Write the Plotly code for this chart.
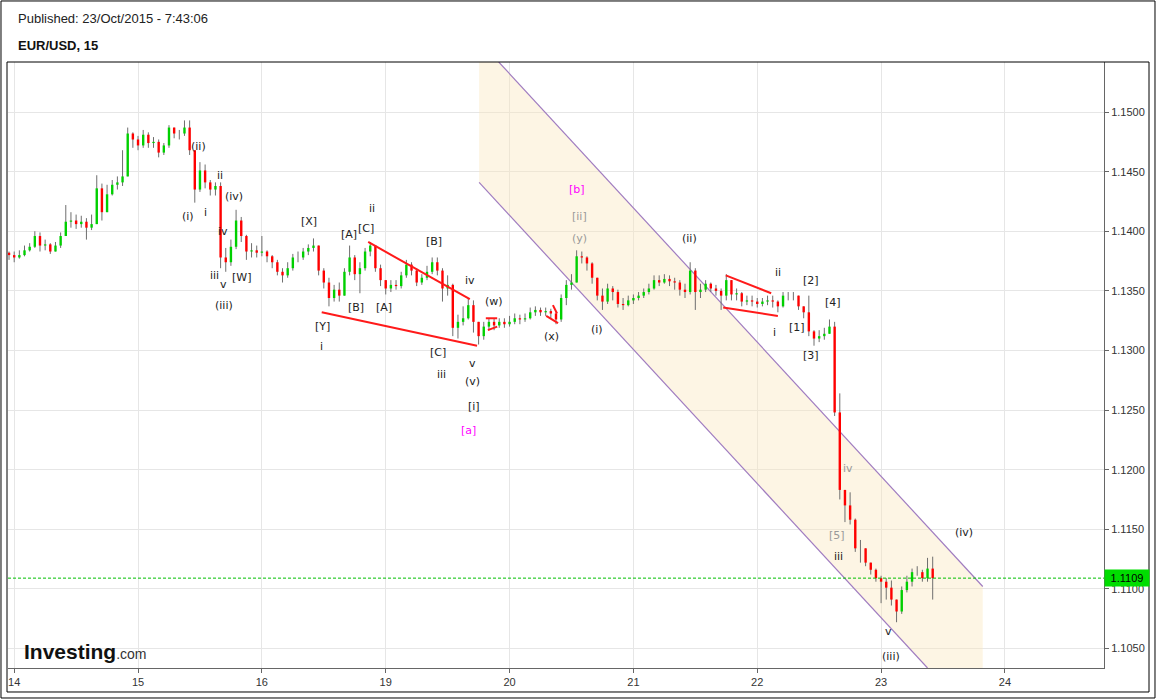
import plotly.graph_objects as go

# ---------------- data (EUR/USD, hourly bars) ----------------
day_labels = ["14", "15", "16", "19", "20", "21", "22", "23", "24"]
day_ticks = [0, 24, 48, 72, 96, 120, 144, 168, 192]      # trading hours, weekend removed
hours = list(range(-1, 179))

first_open = 1.1382

close_14 = [1.1380, 1.1378, 1.1380, 1.1384, 1.1387, 1.1396, 1.1388, 1.1389, 1.1383, 1.1388, 1.1396, 1.1408, 1.1409,
            1.1406, 1.1408, 1.1403, 1.1406, 1.1436, 1.1416, 1.1431, 1.1439, 1.1441, 1.1446, 1.1482, 1.1477]
high_14 = [1.1383, 1.1383, 1.1384, 1.1388, 1.1390, 1.1400, 1.1399, 1.1393, 1.1390, 1.1391, 1.1399, 1.1422, 1.1416,
           1.1414, 1.1413, 1.1411, 1.1414, 1.1447, 1.1440, 1.1439, 1.1443, 1.1446, 1.1468, 1.1487, 1.1483]
low_14 = [1.1376, 1.1374, 1.1377, 1.1379, 1.1383, 1.1386, 1.1383, 1.1384, 1.1381, 1.1383, 1.1386, 1.1396, 1.1403,
          1.1402, 1.1403, 1.1393, 1.1401, 1.1406, 1.1409, 1.1416, 1.1430, 1.1435, 1.1438, 1.1446, 1.1470]

close_15 = [1.1472, 1.1481, 1.1474, 1.1475, 1.1466, 1.1472, 1.1487, 1.1482, 1.1482, 1.1487, 1.1468, 1.1435,
            1.1451, 1.1441, 1.1435, 1.1438, 1.1378, 1.1374, 1.1387, 1.1409, 1.1396, 1.1383, 1.1384, 1.1382]
high_15 = [1.1480, 1.1485, 1.1483, 1.1479, 1.1477, 1.1474, 1.1489, 1.1487, 1.1485, 1.1493, 1.1493, 1.1468,
           1.1458, 1.1456, 1.1443, 1.1441, 1.1441, 1.1386, 1.1393, 1.1418, 1.1412, 1.1397, 1.1390, 1.1388]
low_15 = [1.1468, 1.1470, 1.1470, 1.1470, 1.1462, 1.1464, 1.1470, 1.1478, 1.1477, 1.1480, 1.1464, 1.1424,
          1.1433, 1.1436, 1.1430, 1.1430, 1.1369, 1.1366, 1.1371, 1.1385, 1.1391, 1.1376, 1.1378, 1.1378]

close_16 = [1.1383, 1.1379, 1.1374, 1.1366, 1.1363, 1.1369, 1.1378, 1.1378, 1.1383, 1.1386, 1.1388, 1.1367,
            1.1357, 1.1344, 1.1351, 1.1346, 1.1366, 1.1378, 1.1364, 1.1369, 1.1383, 1.1388, 1.1369, 1.1359]
high_16 = [1.1396, 1.1384, 1.1380, 1.1376, 1.1369, 1.1374, 1.1381, 1.1383, 1.1386, 1.1389, 1.1394, 1.1388,
           1.1369, 1.1361, 1.1355, 1.1357, 1.1369, 1.1388, 1.1380, 1.1374, 1.1386, 1.1391, 1.1388, 1.1372]
low_16 = [1.1379, 1.1374, 1.1369, 1.1363, 1.1357, 1.1361, 1.1367, 1.1374, 1.1376, 1.1380, 1.1383, 1.1363,
          1.1352, 1.1337, 1.1341, 1.1341, 1.1346, 1.1363, 1.1359, 1.1348, 1.1367, 1.1379, 1.1366, 1.1354]

close_19 = [1.1352, 1.1355, 1.1354, 1.1363, 1.1372, 1.1367, 1.1357, 1.1361, 1.1366, 1.1374, 1.1367, 1.1352,
            1.1355, 1.1319, 1.1324, 1.1327, 1.1338, 1.1324, 1.1312, 1.1320, 1.1324, 1.1321, 1.1324, 1.1322]
high_19 = [1.1359, 1.1359, 1.1359, 1.1366, 1.1376, 1.1374, 1.1369, 1.1364, 1.1371, 1.1378, 1.1378, 1.1369,
           1.1363, 1.1356, 1.1330, 1.1337, 1.1344, 1.1342, 1.1320, 1.1324, 1.1327, 1.1327, 1.1327, 1.1327]
low_19 = [1.1347, 1.1349, 1.1351, 1.1352, 1.1361, 1.1363, 1.1354, 1.1355, 1.1359, 1.1364, 1.1363, 1.1341,
          1.1346, 1.1312, 1.1310, 1.1321, 1.1326, 1.1315, 1.1305, 1.1309, 1.1317, 1.1317, 1.1319, 1.1319]

close_20 = [1.1324, 1.1327, 1.1326, 1.1327, 1.1332, 1.1334, 1.1332, 1.1333, 1.1331, 1.1326, 1.1344, 1.1355,
            1.1357, 1.1379, 1.1378, 1.1373, 1.1361, 1.1346, 1.1341, 1.1352, 1.1349, 1.1339, 1.1338, 1.1342]
high_20 = [1.1329, 1.1331, 1.1330, 1.1331, 1.1336, 1.1337, 1.1336, 1.1336, 1.1335, 1.1332, 1.1347, 1.1359,
           1.1364, 1.1384, 1.1383, 1.1379, 1.1374, 1.1361, 1.1352, 1.1356, 1.1354, 1.1351, 1.1344, 1.1346]
low_20 = [1.1320, 1.1322, 1.1322, 1.1324, 1.1326, 1.1329, 1.1329, 1.1329, 1.1327, 1.1322, 1.1324, 1.1338,
          1.1351, 1.1357, 1.1373, 1.1367, 1.1356, 1.1342, 1.1334, 1.1339, 1.1342, 1.1336, 1.1334, 1.1337]

close_21 = [1.1344, 1.1346, 1.1349, 1.1352, 1.1359, 1.1357, 1.1360, 1.1358, 1.1357, 1.1351, 1.1349, 1.1367,
            1.1349, 1.1351, 1.1356, 1.1352, 1.1350, 1.1346, 1.1359, 1.1347, 1.1348, 1.1341, 1.1342, 1.1341]
high_21 = [1.1347, 1.1349, 1.1352, 1.1356, 1.1363, 1.1363, 1.1364, 1.1363, 1.1361, 1.1359, 1.1356, 1.1374,
           1.1369, 1.1356, 1.1359, 1.1357, 1.1355, 1.1352, 1.1364, 1.1359, 1.1352, 1.1349, 1.1346, 1.1346]
low_21 = [1.1339, 1.1342, 1.1344, 1.1347, 1.1351, 1.1354, 1.1356, 1.1354, 1.1351, 1.1346, 1.1344, 1.1347,
          1.1334, 1.1344, 1.1349, 1.1349, 1.1346, 1.1334, 1.1342, 1.1342, 1.1342, 1.1337, 1.1338, 1.1337]

close_22 = [1.1339, 1.1341, 1.1342, 1.1341, 1.1337, 1.1346, 1.1346, 1.1346, 1.1337, 1.1332, 1.1316, 1.1310,
            1.1312, 1.1314, 1.1320, 1.1248, 1.1183, 1.1170, 1.1158, 1.1134, 1.1134, 1.1122, 1.1116, 1.1109]
high_22 = [1.1344, 1.1344, 1.1346, 1.1346, 1.1342, 1.1349, 1.1349, 1.1349, 1.1346, 1.1337, 1.1346, 1.1317,
           1.1317, 1.1319, 1.1326, 1.1324, 1.1264, 1.1183, 1.1181, 1.1159, 1.1141, 1.1134, 1.1122, 1.1117]
low_22 = [1.1336, 1.1337, 1.1338, 1.1336, 1.1332, 1.1336, 1.1342, 1.1342, 1.1334, 1.1327, 1.1312, 1.1304,
          1.1307, 1.1309, 1.1316, 1.1245, 1.1175, 1.1156, 1.1154, 1.1131, 1.1122, 1.1119, 1.1112, 1.1106]

close_23 = [1.1106, 1.1101, 1.1091, 1.1081, 1.1099, 1.1106, 1.1114, 1.1114, 1.1109, 1.1117, 1.1109]
high_23 = [1.1111, 1.1109, 1.1107, 1.1091, 1.1102, 1.1111, 1.1117, 1.1119, 1.1116, 1.1126, 1.1127]
low_23 = [1.1088, 1.1091, 1.1086, 1.1072, 1.1079, 1.1097, 1.1102, 1.1111, 1.1106, 1.1106, 1.1091]

last_price = 1.1109

# analyst drawings (hour, price)
channel_upper = [(93.9, 1.1542), (187.7, 1.1102)]
channel_lower = [(90.1, 1.1441), (177.0, 1.10336)]
channel_right_x = 187.7
red_lines = [
    [(68.6, 1.1391), (88.3, 1.1343)],
    [(59.6, 1.1332), (89.7, 1.1304)],
    [(91.4, 1.1327), (93.6, 1.1327)],
    [(91.8, 1.1317), (93.6, 1.1320)],
    [(103.1, 1.1329), (105.4, 1.1323)],
    [(104.4, 1.1338), (105.2, 1.1331)],
    [(137.9, 1.1363), (146.7, 1.1348)],
    [(137.4, 1.1336), (148.0, 1.1329)],
]
wave_labels = [
    ("(ii)", 35.8, 1.1471, "#222"), ("(i)", 33.7, 1.1412, "#222"), ("i", 37.0, 1.1416, "#222"),
    ("ii", 39.9, 1.1447, "#222"), ("(iv)", 42.6, 1.1429, "#222"), ("iv", 40.5, 1.1400, "#222"),
    ("iii", 38.9, 1.1363, "#222"), ("v", 40.5, 1.1355, "#222"), ("[W]", 44.0, 1.1361, "#222"),
    ("(iii)", 40.7, 1.1338, "#222"), ("[X]", 57.1, 1.1408, "#222"), ("[Y]", 59.8, 1.1320, "#222"),
    ("i", 59.5, 1.1303, "#222"), ("[A]", 64.9, 1.1397, "#222"), ("[C]", 68.2, 1.1402, "#222"),
    ("ii", 69.3, 1.1419, "#222"), ("[B]", 66.2, 1.1336, "#222"), ("[A]", 71.7, 1.1336, "#222"),
    ("[B]", 81.4, 1.1391, "#222"), ("iv", 88.3, 1.1359, "#222"), ("(w)", 93.0, 1.1341, "#222"),
    ("[C]", 82.1, 1.1298, "#222"), ("iii", 82.9, 1.1280, "#222"), ("v", 88.9, 1.1289, "#222"),
    ("(v)", 88.9, 1.1274, "#222"), ("[i]", 89.1, 1.1253, "#222"), ("[a]", 88.1, 1.1233, "#ff00ff"),
    ("(x)", 104.2, 1.1312, "#222"), ("[b]", 109.1, 1.1435, "#ff00ff"), ("[ii]", 109.5, 1.1412, "#999"),
    ("(y)", 109.5, 1.1394, "#999"), ("(i)", 113.0, 1.1318, "#222"), ("(ii)", 130.8, 1.1394, "#222"),
    ("ii", 148.0, 1.1365, "#222"), ("i", 147.3, 1.1315, "#222"), ("[2]", 154.4, 1.1359, "#222"),
    ("[1]", 151.7, 1.1319, "#222"), ("[4]", 158.7, 1.1340, "#222"), ("[3]", 154.4, 1.1296, "#222"),
    ("iv", 161.6, 1.1201, "#999"), ("[5]", 159.5, 1.1145, "#999"), ("iii", 159.8, 1.1127, "#222"),
    ("(iv)", 184.1, 1.1147, "#222"), ("v", 169.5, 1.1064, "#222"), ("(iii)", 169.9, 1.1043, "#222"),
]

# ---------------- assemble candles ----------------
closes = close_14 + close_15 + close_16 + close_19 + close_20 + close_21 + close_22 + close_23
highs = high_14 + high_15 + high_16 + high_19 + high_20 + high_21 + high_22 + high_23
lows = low_14 + low_15 + low_16 + low_19 + low_20 + low_21 + low_22 + low_23
opens = [first_open] + closes[:-1]
highs = [max(h, o, c) for h, o, c in zip(highs, opens, closes)]
lows = [min(l, o, c) for l, o, c in zip(lows, opens, closes)]

wx, wy, ux, uy, dx, dy = [], [], [], [], [], []
for t, o, h, l, c in zip(hours, opens, highs, lows, closes):
    wx += [t, t, None]
    wy += [l, h, None]
    if c >= o:
        ux += [t, t, None]
        uy += [o, c, None]
    else:
        dx += [t, t, None]
        dy += [o, c, None]

X_RANGE = [-1.2, 211.2]
Y_RANGE = [1.10336, 1.15420]

fig = go.Figure()

# channel fill
(ux0, uy0), (ux1, uy1) = channel_upper
(lx0, ly0), (lx1, ly1) = channel_lower
fig.add_trace(go.Scatter(
    x=[lx0, ux0, ux1, channel_right_x, lx1, lx0],
    y=[Y_RANGE[1], uy0, uy1, Y_RANGE[0], ly1, ly0],
    fill="toself", fillcolor="rgba(250,232,190,0.42)", line=dict(width=0),
    mode="lines", hoverinfo="skip"))
for (a, b) in [channel_upper, channel_lower]:
    fig.add_trace(go.Scatter(x=[a[0], b[0]], y=[a[1], b[1]], mode="lines",
                             line=dict(color="#a07cc0", width=1.2), hoverinfo="skip"))

fig.add_trace(go.Scatter(x=wx, y=wy, mode="lines", line=dict(color="#6e6e6e", width=1), hoverinfo="skip"))
fig.add_trace(go.Scatter(x=ux, y=uy, mode="lines", line=dict(color="#00d000", width=2.4), hoverinfo="skip"))
fig.add_trace(go.Scatter(x=dx, y=dy, mode="lines", line=dict(color="#ff0000", width=2.4), hoverinfo="skip"))

for seg in red_lines:
    fig.add_trace(go.Scatter(x=[seg[0][0], seg[1][0]], y=[seg[0][1], seg[1][1]], mode="lines",
                             line=dict(color="#ff1a1a", width=2), hoverinfo="skip"))

annotations = []
for txt, t, p, col in wave_labels:
    annotations.append(dict(x=t, y=p, xref="x", yref="y", text=txt, showarrow=False,
                            font=dict(family="DejaVu Sans", size=11, color=col)))

annotations += [
    dict(x=0.0073, y=1.071, xref="paper", yref="paper", xanchor="left", yanchor="middle",
         text="Published: 23/Oct/2015 - 7:43:06", showarrow=False,
         font=dict(family="Liberation Sans, Arial", size=13, color="#222")),
    dict(x=0.0073, y=1.028, xref="paper", yref="paper", xanchor="left", yanchor="middle",
         text="<b>EUR/USD, 15</b>", showarrow=False,
         font=dict(family="Liberation Sans, Arial", size=13, color="#111")),
    dict(x=0.0128, y=0.027, xref="paper", yref="paper", xanchor="left", yanchor="middle",
         text="<b>Investing</b><span style='font-size:14px;color:#333'>.com</span>", showarrow=False,
         font=dict(family="Liberation Sans, Arial", size=21, color="#111")),
    dict(x=1.0, y=last_price, xref="paper", yref="y", xanchor="left", yanchor="middle",
         text="%.4f" % last_price, showarrow=False, bgcolor="#00dd00", width=42, height=14,
         font=dict(family="Liberation Sans, Arial", size=11, color="#000")),
]

shapes = [
    dict(type="line", xref="paper", yref="y", x0=0, x1=1, y0=last_price, y1=last_price,
         line=dict(color="#00c000", width=1, dash="3px,2px")),
    dict(type="rect", xref="paper", yref="paper", x0=-0.00639, x1=1.04653, y0=-0.0495, y1=1.1007,
         line=dict(color="#000", width=1)),
    dict(type="rect", xref="paper", yref="paper", x0=-0.0009, x1=1.04106, y0=-0.0396, y1=1.0,
         line=dict(color="#000", width=1)),
]

axis_font = dict(family="Liberation Sans, Arial", size=11, color="#333")
fig.update_layout(
    width=1157, height=700, margin=dict(l=8, r=53, t=62, b=32),
    paper_bgcolor="white", plot_bgcolor="white", showlegend=False,
    annotations=annotations, shapes=shapes,
    xaxis=dict(range=X_RANGE, tickmode="array", tickvals=day_ticks, ticktext=day_labels,
               showgrid=True, gridcolor="#e6e6e6", gridwidth=1, zeroline=False,
               showline=True, linecolor="#666", linewidth=1, ticks="outside", ticklen=4,
               tickcolor="#666", tickfont=axis_font),
    yaxis=dict(range=Y_RANGE, side="right", tick0=1.1, dtick=0.005, tickformat=".4f",
               showgrid=True, gridcolor="#e6e6e6", gridwidth=1, zeroline=False,
               showline=True, linecolor="#666", linewidth=1, ticks="outside", ticklen=4,
               tickcolor="#666", tickfont=axis_font),
)

fig.write_html("out.html", config={"displayModeBar": False},
               post_script="document.body.style.margin='0';document.body.style.overflow='hidden';")
